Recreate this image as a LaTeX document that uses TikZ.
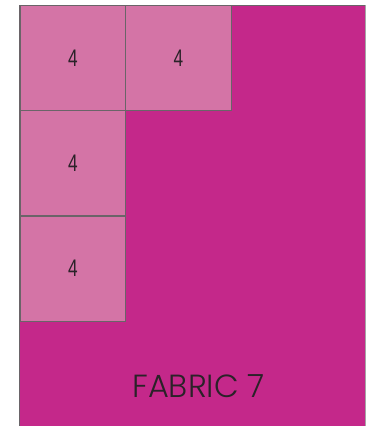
\documentclass[tikz,border=0pt]{standalone}
\usepackage{fontspec}
\setmainfont{Poppins Light}
\newfontfamily\numfont{Liberation Sans}
\definecolor{fabric}{HTML}{C4288A}
\definecolor{patch}{HTML}{D474A6}
\definecolor{edge}{HTML}{6A6468}
\definecolor{ink}{HTML}{2A2228}
\begin{document}
\begin{tikzpicture}[x=1pt,y=-1pt,
  patchbox/.style={draw=edge,line width=1.3pt,fill=patch,minimum width=105.5pt,minimum height=105pt,anchor=north west,inner sep=0pt,
    font=\numfont\fontsize{24}{24}\selectfont,text=ink},
]
\useasboundingbox (0,0) rectangle (370,426);
\fill[fabric] (19.5,5) rectangle (365,426);
\draw[edge,line width=0.8pt] (19.5,426) -- (19.5,5) -- (365,5);
\draw[gray!70,line width=1pt] (365,5) -- (365,426);
\node[patchbox] (p1) at (19.5,5) {\scalebox{0.72}[1]{4}};
\node[patchbox] (p2) at (125,5) {\scalebox{0.72}[1]{4}};
\node[patchbox] (p3) at (19.5,110) {\scalebox{0.72}[1]{4}};
\node[patchbox] (p4) at (19.5,215.5) {\scalebox{0.72}[1]{4}};
\node[text=ink,font=\fontsize{32}{32}\selectfont,inner sep=0pt] (lbl) at (198.5,386) {FABRIC 7};
\end{tikzpicture}
\end{document}
